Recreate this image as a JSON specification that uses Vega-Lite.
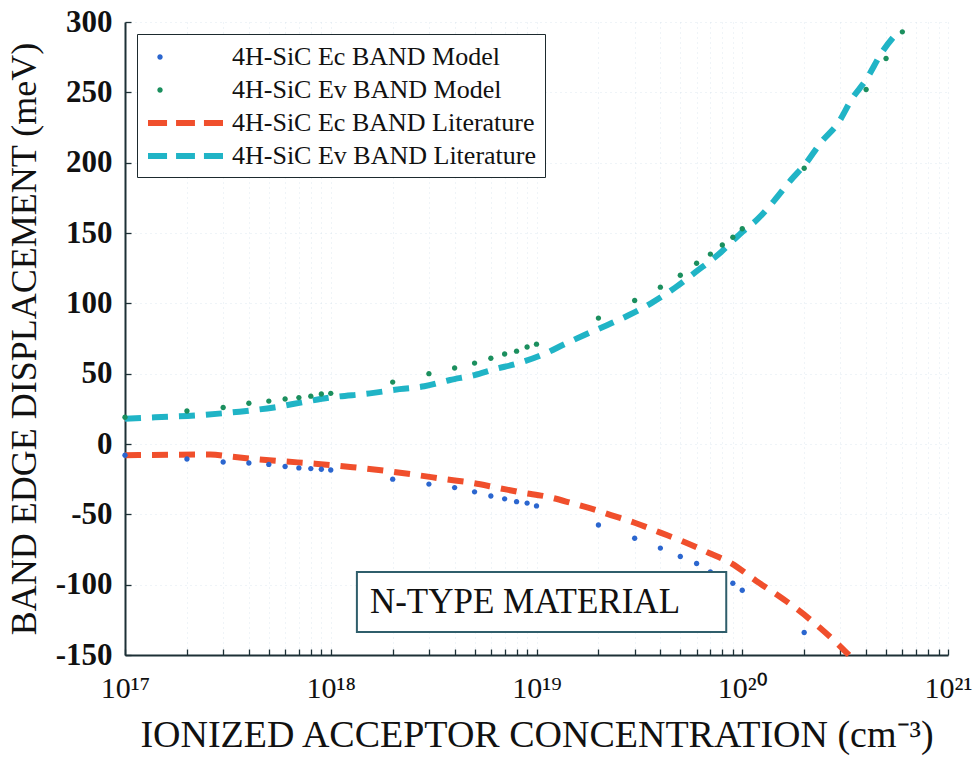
{
  "$schema": "https://vega.github.io/schema/vega-lite/v6.json",
  "width": 823,
  "height": 633,
  "autosize": {"type": "none"},
  "padding": {"left": 125, "top": 22, "right": 28, "bottom": 104},
  "background": "white",
  "config": {
    "view": {"stroke": null},
    "font": "Liberation Serif"
  },
  "datasets": {
    "pts": [
      {"s": "4H-SiC Ec BAND Model", "n": 1e17, "v": -8},
      {"s": "4H-SiC Ec BAND Model", "n": 2e17, "v": -10.7},
      {"s": "4H-SiC Ec BAND Model", "n": 3e17, "v": -12.8},
      {"s": "4H-SiC Ec BAND Model", "n": 4e17, "v": -13.5},
      {"s": "4H-SiC Ec BAND Model", "n": 5e17, "v": -14.5},
      {"s": "4H-SiC Ec BAND Model", "n": 6e17, "v": -16},
      {"s": "4H-SiC Ec BAND Model", "n": 7e17, "v": -17},
      {"s": "4H-SiC Ec BAND Model", "n": 8e17, "v": -17.5},
      {"s": "4H-SiC Ec BAND Model", "n": 9e17, "v": -18},
      {"s": "4H-SiC Ec BAND Model", "n": 1e18, "v": -18.5},
      {"s": "4H-SiC Ec BAND Model", "n": 2e18, "v": -25},
      {"s": "4H-SiC Ec BAND Model", "n": 3e18, "v": -28.5},
      {"s": "4H-SiC Ec BAND Model", "n": 4e18, "v": -31},
      {"s": "4H-SiC Ec BAND Model", "n": 5e18, "v": -34},
      {"s": "4H-SiC Ec BAND Model", "n": 6e18, "v": -37},
      {"s": "4H-SiC Ec BAND Model", "n": 7e18, "v": -39},
      {"s": "4H-SiC Ec BAND Model", "n": 8e18, "v": -41},
      {"s": "4H-SiC Ec BAND Model", "n": 9e18, "v": -42},
      {"s": "4H-SiC Ec BAND Model", "n": 1e19, "v": -44},
      {"s": "4H-SiC Ec BAND Model", "n": 2e19, "v": -57.6},
      {"s": "4H-SiC Ec BAND Model", "n": 3e19, "v": -67},
      {"s": "4H-SiC Ec BAND Model", "n": 4e19, "v": -74},
      {"s": "4H-SiC Ec BAND Model", "n": 5e19, "v": -80},
      {"s": "4H-SiC Ec BAND Model", "n": 6e19, "v": -85},
      {"s": "4H-SiC Ec BAND Model", "n": 7e19, "v": -91},
      {"s": "4H-SiC Ec BAND Model", "n": 8e19, "v": -95},
      {"s": "4H-SiC Ec BAND Model", "n": 9e19, "v": -99},
      {"s": "4H-SiC Ec BAND Model", "n": 1e20, "v": -104},
      {"s": "4H-SiC Ec BAND Model", "n": 2e20, "v": -134},
      {"s": "4H-SiC Ev BAND Model", "n": 1e17, "v": 19},
      {"s": "4H-SiC Ev BAND Model", "n": 2e17, "v": 23.5},
      {"s": "4H-SiC Ev BAND Model", "n": 3e17, "v": 26},
      {"s": "4H-SiC Ev BAND Model", "n": 4e17, "v": 29},
      {"s": "4H-SiC Ev BAND Model", "n": 5e17, "v": 30.5},
      {"s": "4H-SiC Ev BAND Model", "n": 6e17, "v": 32},
      {"s": "4H-SiC Ev BAND Model", "n": 7e17, "v": 33},
      {"s": "4H-SiC Ev BAND Model", "n": 8e17, "v": 34},
      {"s": "4H-SiC Ev BAND Model", "n": 9e17, "v": 35.5},
      {"s": "4H-SiC Ev BAND Model", "n": 1e18, "v": 36},
      {"s": "4H-SiC Ev BAND Model", "n": 2e18, "v": 44},
      {"s": "4H-SiC Ev BAND Model", "n": 3e18, "v": 50},
      {"s": "4H-SiC Ev BAND Model", "n": 4e18, "v": 54},
      {"s": "4H-SiC Ev BAND Model", "n": 5e18, "v": 57.5},
      {"s": "4H-SiC Ev BAND Model", "n": 6e18, "v": 61},
      {"s": "4H-SiC Ev BAND Model", "n": 7e18, "v": 64},
      {"s": "4H-SiC Ev BAND Model", "n": 8e18, "v": 66},
      {"s": "4H-SiC Ev BAND Model", "n": 9e18, "v": 69},
      {"s": "4H-SiC Ev BAND Model", "n": 1e19, "v": 71},
      {"s": "4H-SiC Ev BAND Model", "n": 2e19, "v": 89.5},
      {"s": "4H-SiC Ev BAND Model", "n": 3e19, "v": 102},
      {"s": "4H-SiC Ev BAND Model", "n": 4e19, "v": 111.5},
      {"s": "4H-SiC Ev BAND Model", "n": 5e19, "v": 120},
      {"s": "4H-SiC Ev BAND Model", "n": 6e19, "v": 128.5},
      {"s": "4H-SiC Ev BAND Model", "n": 7e19, "v": 135},
      {"s": "4H-SiC Ev BAND Model", "n": 8e19, "v": 141.5},
      {"s": "4H-SiC Ev BAND Model", "n": 9e19, "v": 147},
      {"s": "4H-SiC Ev BAND Model", "n": 1e20, "v": 153},
      {"s": "4H-SiC Ev BAND Model", "n": 2e20, "v": 196},
      {"s": "4H-SiC Ev BAND Model", "n": 4e20, "v": 252},
      {"s": "4H-SiC Ev BAND Model", "n": 5e20, "v": 274},
      {"s": "4H-SiC Ev BAND Model", "n": 6e20, "v": 293}
    ],
    "lit": [
      {"s": "4H-SiC Ec BAND Literature", "n": 1e17, "v": -8},
      {"s": "4H-SiC Ec BAND Literature", "n": 2.6e17, "v": -7.5},
      {"s": "4H-SiC Ec BAND Literature", "n": 3.3e17, "v": -9},
      {"s": "4H-SiC Ec BAND Literature", "n": 4.5e17, "v": -11},
      {"s": "4H-SiC Ec BAND Literature", "n": 6.1e17, "v": -12.5},
      {"s": "4H-SiC Ec BAND Literature", "n": 8.4e17, "v": -14},
      {"s": "4H-SiC Ec BAND Literature", "n": 1.28e18, "v": -16.5},
      {"s": "4H-SiC Ec BAND Literature", "n": 1.94e18, "v": -19.5},
      {"s": "4H-SiC Ec BAND Literature", "n": 2.6e18, "v": -22},
      {"s": "4H-SiC Ec BAND Literature", "n": 3.6e18, "v": -25},
      {"s": "4H-SiC Ec BAND Literature", "n": 4.8e18, "v": -27.5},
      {"s": "4H-SiC Ec BAND Literature", "n": 6.4e18, "v": -31},
      {"s": "4H-SiC Ec BAND Literature", "n": 8.5e18, "v": -34.5},
      {"s": "4H-SiC Ec BAND Literature", "n": 1.13e19, "v": -37.5},
      {"s": "4H-SiC Ec BAND Literature", "n": 1.48e19, "v": -42},
      {"s": "4H-SiC Ec BAND Literature", "n": 1.95e19, "v": -47},
      {"s": "4H-SiC Ec BAND Literature", "n": 2.3e19, "v": -50.5},
      {"s": "4H-SiC Ec BAND Literature", "n": 3.0e19, "v": -56},
      {"s": "4H-SiC Ec BAND Literature", "n": 4.0e19, "v": -63},
      {"s": "4H-SiC Ec BAND Literature", "n": 5.3e19, "v": -70},
      {"s": "4H-SiC Ec BAND Literature", "n": 6.9e19, "v": -77.5},
      {"s": "4H-SiC Ec BAND Literature", "n": 8.9e19, "v": -85},
      {"s": "4H-SiC Ec BAND Literature", "n": 1.16e20, "v": -97},
      {"s": "4H-SiC Ec BAND Literature", "n": 1.47e20, "v": -107},
      {"s": "4H-SiC Ec BAND Literature", "n": 1.87e20, "v": -118},
      {"s": "4H-SiC Ec BAND Literature", "n": 2.4e20, "v": -131},
      {"s": "4H-SiC Ec BAND Literature", "n": 3.0e20, "v": -144},
      {"s": "4H-SiC Ec BAND Literature", "n": 3.3e20, "v": -150},
      {"s": "4H-SiC Ev BAND Literature", "n": 1e17, "v": 18},
      {"s": "4H-SiC Ev BAND Literature", "n": 1.4e17, "v": 19},
      {"s": "4H-SiC Ev BAND Literature", "n": 2.3e17, "v": 20.5},
      {"s": "4H-SiC Ev BAND Literature", "n": 3.6e17, "v": 23},
      {"s": "4H-SiC Ev BAND Literature", "n": 5.3e17, "v": 26},
      {"s": "4H-SiC Ev BAND Literature", "n": 7.5e17, "v": 30},
      {"s": "4H-SiC Ev BAND Literature", "n": 9.9e17, "v": 33},
      {"s": "4H-SiC Ev BAND Literature", "n": 1.55e18, "v": 36},
      {"s": "4H-SiC Ev BAND Literature", "n": 2.16e18, "v": 39},
      {"s": "4H-SiC Ev BAND Literature", "n": 2.85e18, "v": 41},
      {"s": "4H-SiC Ev BAND Literature", "n": 3.8e18, "v": 45.5},
      {"s": "4H-SiC Ev BAND Literature", "n": 5.0e18, "v": 49},
      {"s": "4H-SiC Ev BAND Literature", "n": 6.2e18, "v": 53},
      {"s": "4H-SiC Ev BAND Literature", "n": 8.2e18, "v": 57.5},
      {"s": "4H-SiC Ev BAND Literature", "n": 1.09e19, "v": 64},
      {"s": "4H-SiC Ev BAND Literature", "n": 1.37e19, "v": 71},
      {"s": "4H-SiC Ev BAND Literature", "n": 1.71e19, "v": 77.5},
      {"s": "4H-SiC Ev BAND Literature", "n": 2.2e19, "v": 84.5},
      {"s": "4H-SiC Ev BAND Literature", "n": 2.8e19, "v": 91.5},
      {"s": "4H-SiC Ev BAND Literature", "n": 3.6e19, "v": 100},
      {"s": "4H-SiC Ev BAND Literature", "n": 4.7e19, "v": 111},
      {"s": "4H-SiC Ev BAND Literature", "n": 5.9e19, "v": 122},
      {"s": "4H-SiC Ev BAND Literature", "n": 7.9e19, "v": 136.5},
      {"s": "4H-SiC Ev BAND Literature", "n": 9.7e19, "v": 149},
      {"s": "4H-SiC Ev BAND Literature", "n": 1.19e20, "v": 160},
      {"s": "4H-SiC Ev BAND Literature", "n": 1.43e20, "v": 173},
      {"s": "4H-SiC Ev BAND Literature", "n": 1.72e20, "v": 187.5},
      {"s": "4H-SiC Ev BAND Literature", "n": 2.05e20, "v": 200},
      {"s": "4H-SiC Ev BAND Literature", "n": 2.4e20, "v": 214},
      {"s": "4H-SiC Ev BAND Literature", "n": 2.95e20, "v": 229},
      {"s": "4H-SiC Ev BAND Literature", "n": 3.4e20, "v": 245},
      {"s": "4H-SiC Ev BAND Literature", "n": 4.0e20, "v": 259},
      {"s": "4H-SiC Ev BAND Literature", "n": 4.8e20, "v": 279},
      {"s": "4H-SiC Ev BAND Literature", "n": 5.8e20, "v": 294}
    ],
    "note": [
      {"label": "N-TYPE MATERIAL", "n1": 1.34e18, "n2": 8.36e19, "v1": -91, "v2": -133.6, "nt": 1.55e18, "vt": -112}
    ]
  },
  "layer": [
    {
      "data": {"name": "lit"},
      "mark": {"type": "line", "strokeDash": [16, 11], "strokeWidth": 6, "interpolate": "monotone"},
      "encoding": {
        "x": {
          "field": "n", "type": "quantitative",
          "scale": {"type": "log", "domain": [1e17, 1e21], "nice": false},
          "axis": {
            "title": "IONIZED ACCEPTOR CONCENTRATION (cm⁻³)",
            "titleFont": "Liberation Serif", "titleFontSize": 38, "titleFontWeight": "normal", "titleColor": "#111",
            "titlePadding": 13,
            "values": [1e17, 2e17, 3e17, 4e17, 5e17, 6e17, 7e17, 8e17, 9e17, 1e18, 2e18, 3e18, 4e18, 5e18, 6e18, 7e18, 8e18, 9e18, 1e19, 2e19, 3e19, 4e19, 5e19, 6e19, 7e19, 8e19, 9e19, 1e20, 2e20, 3e20, 4e20, 5e20, 6e20, 7e20, 8e20, 9e20, 1e21],
            "labelExpr": "datum.value == 1e17 ? '10¹⁷' : datum.value == 1e18 ? '10¹⁸' : datum.value == 1e19 ? '10¹⁹' : datum.value == 1e20 ? '10²⁰' : datum.value == 1e21 ? '10²¹' : ''",
            "labelFont": "Liberation Serif", "labelFontSize": 30, "labelColor": "#111",
            "labelPadding": 24, "labelOverlap": false, "labelFlush": false,
            "tickSize": -6,
            "tickColor": "#1d3036", "tickWidth": 1.3,
            "domainColor": "#1d3036", "domainWidth": 2,
            "grid": true, "gridColor": "#c9dbe6", "gridDash": [1, 4], "gridOpacity": 0.6
          }
        },
        "y": {
          "field": "v", "type": "quantitative",
          "scale": {"domain": [-150, 300], "nice": false},
          "axis": {
            "title": "BAND EDGE DISPLACEMENT (meV)",
            "titleFont": "Liberation Serif", "titleFontSize": 36, "titleFontWeight": "normal", "titleColor": "#111",
            "titlePadding": 12,
            "values": [-150, -100, -50, 0, 50, 100, 150, 200, 250, 300],
            "labelExpr": "replace(datum.label, '−', '-')",
            "labelFont": "Liberation Serif", "labelFontSize": 31, "labelFontWeight": "bold", "labelColor": "#111",
            "labelPadding": 19,
            "tickSize": -6, "tickColor": "#1d3036", "tickWidth": 1.3,
            "domainColor": "#1d3036", "domainWidth": 2,
            "grid": true, "gridColor": "#c9dbe6", "gridDash": [1, 4], "gridOpacity": 0.6
          }
        },
        "stroke": {
          "field": "s", "type": "nominal",
          "scale": {
            "domain": ["4H-SiC Ec BAND Literature", "4H-SiC Ev BAND Literature"],
            "range": ["#f04f2c", "#20b4c6"]
          },
          "legend": null
        }
      }
    },
    {
      "data": {"name": "pts"},
      "mark": {"type": "point", "filled": true, "size": 900, "opacity": 1, "strokeWidth": 0},
      "encoding": {
        "x": {"field": "n", "type": "quantitative"},
        "y": {"field": "v", "type": "quantitative"},
        "color": {
          "field": "s", "type": "nominal",
          "scale": {
            "domain": ["4H-SiC Ec BAND Model", "4H-SiC Ev BAND Model", "4H-SiC Ec BAND Literature", "4H-SiC Ev BAND Literature"],
            "range": ["#2b66cf", "#1b8f5e", "#f04f2c", "#20b4c6"]
          },
          "legend": {
            "title": null,
            "orient": "top-left",
            "offset": 12,
            "padding": 8,
            "strokeColor": "#1d2a2e",
            "fillColor": "white",
            "labelFont": "Liberation Serif", "labelFontSize": 26, "labelColor": "#111",
            "labelLimit": 600,
            "labelOffset": 57,
            "rowPadding": 5,
            "symbolSize": 900,
            "symbolStrokeWidth": 0,
            "symbolOpacity": 1
          }
        },
        "shape": {
          "field": "s", "type": "nominal",
          "scale": {
            "domain": ["4H-SiC Ec BAND Model", "4H-SiC Ev BAND Model", "4H-SiC Ec BAND Literature", "4H-SiC Ev BAND Literature"],
            "range": [
              "M0.18,0A0.18,0.18 0 1,1 -0.18,0A0.18,0.18 0 1,1 0.18,0Z",
              "M0.18,0A0.18,0.18 0 1,1 -0.18,0A0.18,0.18 0 1,1 0.18,0Z",
              "M-0.8,-0.2H0.47V0.2H-0.8Z M1.07,-0.2H2.33V0.2H1.07Z M2.93,-0.2H4.2V0.2H2.93Z",
              "M-0.8,-0.2H0.47V0.2H-0.8Z M1.07,-0.2H2.33V0.2H1.07Z M2.93,-0.2H4.2V0.2H2.93Z"
            ]
          },
          "legend": {
            "title": null,
            "orient": "top-left",
            "offset": 12,
            "padding": 8,
            "strokeColor": "#1d2a2e",
            "fillColor": "white",
            "labelFont": "Liberation Serif", "labelFontSize": 26, "labelColor": "#111",
            "labelLimit": 600,
            "labelOffset": 57,
            "rowPadding": 5,
            "symbolSize": 900,
            "symbolStrokeWidth": 0,
            "symbolOpacity": 1
          }
        }
      }
    },
    {
      "data": {"name": "note"},
      "mark": {"type": "rect", "fill": "white", "stroke": "#2f5e6b", "strokeWidth": 2},
      "encoding": {
        "x": {"field": "n1", "type": "quantitative"},
        "x2": {"field": "n2"},
        "y": {"field": "v1", "type": "quantitative"},
        "y2": {"field": "v2"}
      }
    },
    {
      "data": {"name": "note"},
      "mark": {"type": "text", "align": "left", "baseline": "middle", "font": "Liberation Serif", "fontSize": 35, "color": "#111"},
      "encoding": {
        "x": {"field": "nt", "type": "quantitative"},
        "y": {"field": "vt", "type": "quantitative"},
        "text": {"field": "label"}
      }
    }
  ]
}
